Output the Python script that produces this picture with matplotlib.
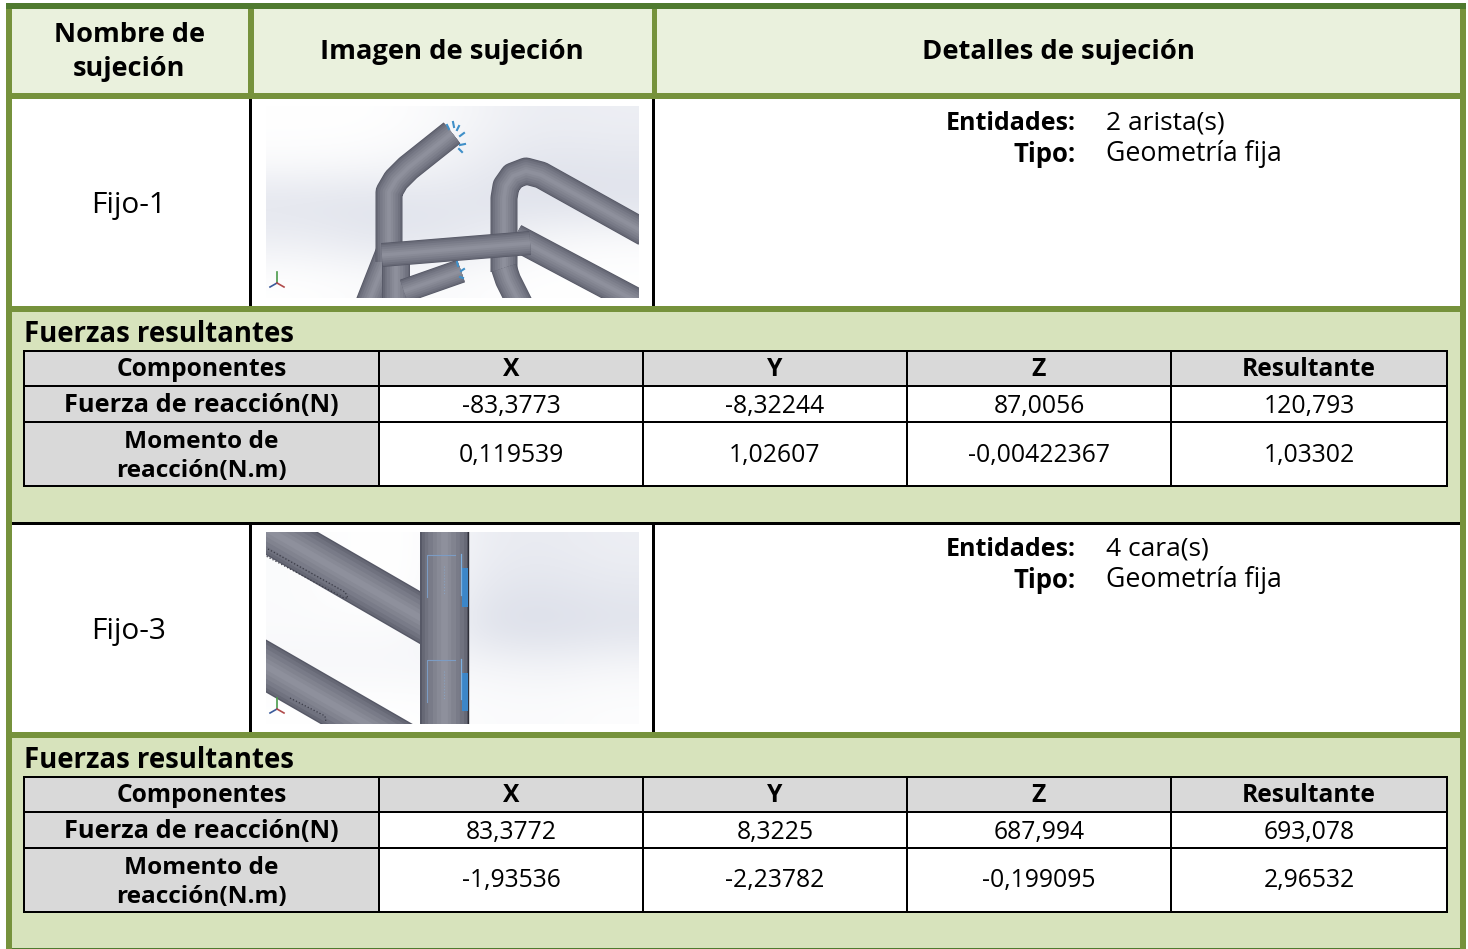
import matplotlib
matplotlib.use('Agg')
import matplotlib.pyplot as plt
from matplotlib.colors import LinearSegmentedColormap
from matplotlib.patches import Rectangle

plt.rcParams['font.family'] = ['Open Sans', 'DejaVu Sans']

# table contents
header_labels = ['Nombre de\nsujeción', 'Imagen de sujeción', 'Detalles de sujeción']
fixture_names = ['Fijo-1', 'Fijo-3']
entity_values = ['2 arista(s)', '4 cara(s)']
type_values = ['Geometría fija', 'Geometría fija']
component_labels = ['Componentes', 'X', 'Y', 'Z', 'Resultante']
row_labels = ['Fuerza de reacción(N)', 'Momento de\nreacción(N.m)']
forces_1 = ['-83,3773', '-8,32244', '87,0056', '120,793']
moments_1 = ['0,119539', '1,02607', '-0,00422367', '1,03302']
forces_2 = ['83,3772', '8,3225', '687,994', '693,078']
moments_2 = ['-1,93536', '-2,23782', '-0,199095', '2,96532']

OLIVE = '#76923c'
DARK = '#4f7a2f'
HEAD = '#eaf1dd'
SECTION = '#d7e3bc'
GRAY = '#d9d9d9'
SKY = LinearSegmentedColormap.from_list('sky', ['#d2d6e3', '#ffffff'])

fig = plt.figure(figsize=(14.68, 9.49), dpi=100)
ax = fig.add_axes([0, 0, 1, 1])


def box(x0, y0, x1, y1, color, zorder=1):
    ax.add_patch(Rectangle((x0, y0), x1 - x0, y1 - y0, facecolor=color, edgecolor='none',
                           linewidth=0, antialiased=False, zorder=zorder))


def label(x, y, s, size, bold=False, ha='center', gap=30):
    # lines are placed one by one, the line gap differs between the two tables
    lines = s.split('\n')
    for i, line in enumerate(lines):
        ax.text(x, y + 2 + (i - (len(lines) - 1) / 2) * gap, line, ha=ha, va='center', fontsize=size,
                color='black', zorder=6, fontweight='bold' if bold else 'normal')


def tube(points, width, clip, zorder=3):
    # layered strokes give the round shading of the pipes
    xs, ys = zip(*points)
    layers = [(1.0, '#565866'), (0.94, '#666875'), (0.82, '#70727f'), (0.66, '#797b88'),
              (0.48, '#81838f'), (0.3, '#888a96'), (0.14, '#8e909c')]
    for frac, col in layers:
        line, = ax.plot(xs, ys, color=col, lw=width * frac * 0.72, solid_capstyle='butt',
                        solid_joinstyle='round', zorder=zorder)
        line.set_clip_path(clip)


def backdrop(x0, y0, x1, y1, levels):
    im = ax.imshow(levels, extent=(x0, x1, y1, y0), cmap=SKY, vmin=0, vmax=1, aspect='auto',
                   interpolation='bicubic', zorder=2)
    clip = Rectangle((x0, y0), x1 - x0, y1 - y0, transform=ax.transData)
    im.set_clip_path(clip)
    return clip


def ticks(clip, spots, color='#3f8fc8'):
    for px, py, dx, dy in spots:
        mark, = ax.plot([px, px + dx], [py, py + dy], color=color, lw=1.5, zorder=5)
        mark.set_clip_path(clip)


def picture_one():
    levels = [[1.0, 1.0, 0.85, 0.55, 0.6],
              [0.9, 0.85, 0.7, 0.35, 0.4],
              [0.35, 0.3, 0.4, 0.25, 0.3],
              [0.6, 0.4, 0.4, 0.8, 0.9],
              [1.0, 0.9, 0.9, 1.0, 1.0]]
    clip = backdrop(266, 106, 639, 298, levels)
    tube([(368, 304), (390, 248)], 26, clip)
    tube([(396, 310), (396, 262)], 28, clip)
    tube([(404, 291), (461, 271)], 24, clip)
    tube([(389, 262), (389, 192), (396, 180), (408, 168), (452, 133)], 27, clip)
    tube([(504, 272), (504, 198), (506, 186), (513, 176), (526, 171), (541, 175), (645, 233)], 27, clip)
    tube([(504, 268), (508, 280), (520, 304)], 26, clip)
    tube([(515, 237), (645, 306)], 27, clip)
    tube([(382, 255), (530, 243)], 24, clip, zorder=4)
    # fixture arrows
    ticks(clip, [(447, 125, 2, 4), (453, 122, 1, 5), (459, 126, -2, 4), (464, 133, -4, 3),
                 (465, 144, -5, 1), (462, 152, -3, -3), (457, 262, 1, 4), (464, 269, -3, 2),
                 (463, 278, -3, -1)])
    triad(277, 283, clip)


def picture_two():
    levels = [[0.9, 1.0, 1.0, 0.55, 0.5, 0.6],
              [0.9, 1.0, 1.0, 0.4, 0.35, 0.45],
              [0.9, 0.9, 0.9, 0.25, 0.2, 0.3],
              [0.8, 0.8, 0.8, 0.8, 0.7, 0.8],
              [1.0, 1.0, 1.0, 0.9, 0.9, 0.95]]
    clip = backdrop(266, 532, 639, 724, levels)
    tube([(220, 502), (445, 632)], 46, clip)
    tube([(200, 628), (450, 772)], 46, clip)
    tube([(444, 520), (444, 740)], 48, clip, zorder=4)
    edge, = ax.plot([468, 468], [532, 724], color='#2e2f38', lw=1, zorder=5)
    edge.set_clip_path(clip)
    # slots on the pipes
    slot_x = [268, 345, 348, 344, 266]
    slot_y = [549, 592, 598, 598, 556]
    ax.plot(slot_x, slot_y, color='#3a3b46', lw=0.9, ls=':', zorder=5)
    slot_x = [290, 325, 326]
    slot_y = [698, 716, 722]
    ax.plot(slot_x, slot_y, color='#3a3b46', lw=0.9, ls=':', zorder=5)
    # fixture marks
    for y0, y1 in [(568, 607), (673, 711)]:
        box(462, y0, 468, y1, '#3c86c8', 5)
        ax.plot([427, 427, 455], [y0 + 29, y0 - 13, y0 - 13], color='#7c9cc4', lw=0.8, zorder=5)
        ax.plot([461, 461], [y0 - 14, y1 - 12], color='#7cb0e0', lw=0.9, zorder=5)
        ax.plot([444, 444], [y0 - 2, y1 - 12], color='#8aa2c0', lw=0.8, ls=':', zorder=5)
    triad(277, 709, clip)


def triad(x, y, clip):
    for dx, dy, col in [(0, -11, '#4a9a4a'), (-7, 4, '#3a5a9a'), (7, 4, '#b04a4a')]:
        mark, = ax.plot([x, x + dx], [y, y + dy], color=col, lw=1.2, zorder=5)
        mark.set_clip_path(clip)


def fixture_row(top, name, entity, kind, picture):
    box(12, top, 1460, top + 207, 'white')
    box(249, top, 252, top + 207, 'black', 2)
    box(652, top, 655, top + 207, 'black', 2)
    box(6, top + 207, 1466, top + 213, OLIVE, 3)
    label(129, top + 104, name, 21.5)
    label(1076, top + 22, 'Entidades:', 18, bold=True, ha='right')
    label(1106, top + 22, entity, 19, ha='left')
    label(1076, top + 53, 'Tipo:', 18.5, bold=True, ha='right')
    label(1106, top + 53, kind, 19.2, ha='left')
    picture()


def forces_table(top, forces, moments):
    edges = [24, 379, 643, 907, 1171, 1447]
    rows = [top, top + 35, top + 71, top + 135]
    box(12, top - 39, 1460, top + 171 if top < 500 else 948, SECTION)
    label(24, top - 18, 'Fuerzas resultantes', 19.8, bold=True, ha='left')
    box(edges[0], rows[0], edges[-1], rows[-1], 'white', 2)
    box(edges[0], rows[0], edges[1], rows[-1], GRAY, 2)
    box(edges[0], rows[0], edges[-1], rows[1], GRAY, 2)
    for x in edges:
        box(x - 1, rows[0] - 1, x + 1, rows[-1] + 1, 'black', 3)
    for y in rows:
        box(edges[0] - 1, y - 1, edges[-1] + 1, y + 1, 'black', 3)
    centers = [(edges[i] + edges[i + 1]) / 2 for i in range(5)]
    for c, s in zip(centers, component_labels):
        label(c, top + 16, s, 17.7, bold=True)
    label(centers[0], top + 52, row_labels[0], 18.3, bold=True)
    label(centers[0], top + 103, row_labels[1], 17.6, bold=True, gap=29)
    for c, f, m in zip(centers[1:], forces, moments):
        label(c, top + 53, f, 17.8)
        label(c, top + 102, m, 17.8)


# header band
box(12, 9, 1460, 93, HEAD)
box(248, 9, 254, 93, OLIVE, 2)
box(652, 9, 657, 93, OLIVE, 2)
box(6, 93, 1466, 99, OLIVE, 3)
label(129, 50, header_labels[0], 19.5, bold=True, gap=34)
label(452, 50, header_labels[1], 19.7, bold=True)
label(1058, 50, header_labels[2], 19.7, bold=True)

fixture_row(99, fixture_names[0], entity_values[0], type_values[0], picture_one)
forces_table(351, forces_1, moments_1)
box(12, 522, 1460, 525, 'black', 3)
fixture_row(525, fixture_names[1], entity_values[1], type_values[1], picture_two)
forces_table(777, forces_2, moments_2)

# outer frame
box(6, 3, 12, 949, OLIVE, 4)
box(1460, 3, 1466, 949, OLIVE, 4)
box(6, 3, 1466, 9, DARK, 5)
box(12, 948, 1460, 949, DARK, 5)

ax.set_xlim(0, 1468)
ax.set_ylim(949, 0)
ax.axis('off')
fig.savefig('out.png', dpi=100, facecolor='white')
